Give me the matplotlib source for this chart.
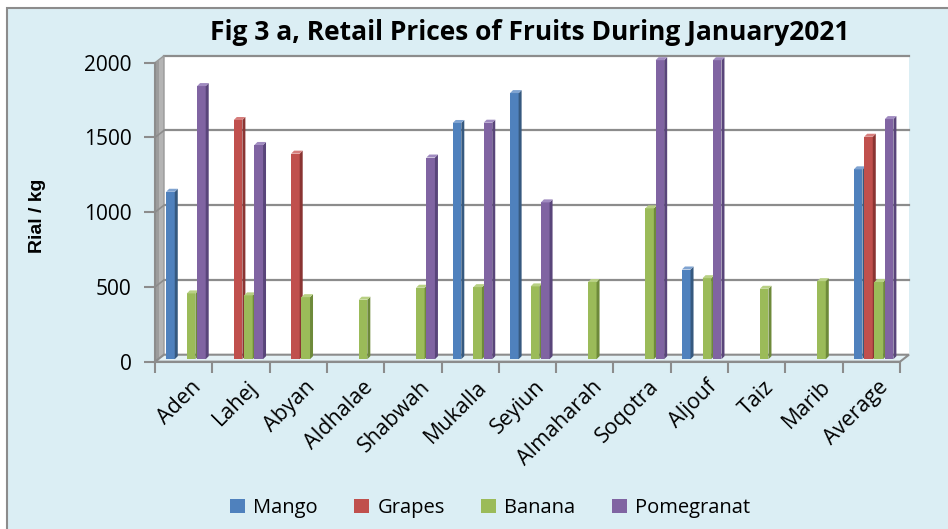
import numpy as np
import matplotlib.pyplot as plt
import matplotlib.transforms as mtrans
from matplotlib.patches import Polygon, Rectangle

# ---------- data ----------
cities = ['Aden', 'Lahej', 'Abyan', 'Aldhalae', 'Shabwah', 'Mukalla', 'Seyiun',
          'Almaharah', 'Soqotra', 'Aljouf', 'Taiz', 'Marib', 'Average']
mango = [1120, 0, 0, 0, 0, 1580, 1780, 0, 0, 600, 0, 0, 1270]
grapes = [0, 1600, 1375, 0, 0, 0, 0, 0, 0, 0, 0, 0, 1488]
banana = [440, 427, 415, 398, 478, 482, 487, 516, 1009, 542, 471, 522, 516]
pomegranat = [1827, 1433, 0, 0, 1349, 1582, 1049, 0, 2000, 2000, 0, 0, 1606]
series_names = ['Mango', 'Grapes', 'Banana', 'Pomegranat']
yticks = [0, 500, 1000, 1500, 2000]

front_col = ['#4F81BD', '#C0504D', '#9BBB59', '#8064A2']
side_col = ['#36597F', '#8A3432', '#6E8A3A', '#59457A']
top_col = ['#7FA3D1', '#D67E7C', '#B8D084', '#A08BC0']

W, H = 948, 529
fig = plt.figure(figsize=(W / 100, H / 100), dpi=100, facecolor='white')
# chart area with border (white strip top/left like the source)
fig.patches.append(Rectangle((7 / W, -0.01), 1.0, (H - 8) / H + 0.01, transform=fig.transFigure,
                             facecolor='#DBEEF4', edgecolor='#8C8C8C', lw=1.5, zorder=-5))

ax = fig.add_axes([155 / W, (H - 361.7) / H, 745 / W, 299 / H])
ax.set_zorder(2)
ax.set_xlim(-0.5, 12.5)
ax.set_ylim(0, 2000)
ax.patch.set_visible(False)
for s in ['top', 'right']:
    ax.spines[s].set_visible(False)
ax.spines['left'].set_color('#8C8C8C')
ax.spines['bottom'].set_color('#8C8C8C')
ax.spines['left'].set_linewidth(1.5)
ax.spines['bottom'].set_linewidth(1.5)

DX, DY = 9, 7          # depth of the 3d walls in pixels
back = mtrans.offset_copy(ax.transData, fig=fig, x=DX, y=DY, units='dots')
ident = mtrans.IdentityTransform()

# back wall
ax.add_patch(Rectangle((-0.5, 0), 13, 2000, transform=back, facecolor='white',
                       edgecolor='none', zorder=0, clip_on=False))
for g in yticks[1:]:
    ax.plot([-0.5, 12.5], [g, g], transform=back, color='#8C8C8C', lw=1.6,
            zorder=1, clip_on=False)

fig.canvas.draw()


def disp(x, y):
    return ax.transData.transform((x, y))


# left wall (two tones to mimic the shading)
p0, p1 = disp(-0.5, 0), disp(-0.5, 2000)
ax.add_patch(Polygon([p0, p1, p1 + [DX, DY], p0 + [DX, DY]], closed=True, transform=ident,
                     facecolor='#B4B4B4', edgecolor='#9A9A9A', lw=1, zorder=1, clip_on=False))
ax.add_patch(Polygon([p0, p1, p1 + [4, 3], p0 + [4, 3]], closed=True, transform=ident,
                     facecolor='#9C9C9C', edgecolor='none', zorder=1, clip_on=False))
for g in yticks[1:]:
    q = disp(-0.5, g)
    ax.add_line(plt.Line2D([q[0], q[0] + DX], [q[1], q[1] + DY], transform=ident,
                           color='#8C8C8C', lw=1.2, zorder=1))
# floor
f0, f1 = disp(-0.5, 0), disp(12.5, 0)
ax.add_patch(Polygon([f0, f1, f1 + [DX, DY], f0 + [DX, DY]], closed=True, transform=ident,
                     facecolor='#E4F1F5', edgecolor='#8C8C8C', lw=1.5, zorder=1, clip_on=False))

# 3d bars
bw = 0.18
BD = 3  # bar depth in pixels
BX, BY = 2, 2.5
data = [mango, grapes, banana, pomegranat]
for j in range(len(cities)):
    for i, vals in enumerate(data):
        v = vals[j]
        if v <= 0:
            continue
        xl = j - 2 * bw + i * bw + 0.02
        a = disp(xl, 0) + [BX, BY]
        b = disp(xl + bw - 0.03, 0) + [BX, BY]
        c = disp(xl + bw - 0.03, v) + [BX, BY]
        d = disp(xl, v) + [BX, BY]
        z = 3 + j * 0.01 + i * 0.001
        ax.add_patch(Polygon([a, b, c, d], closed=True, transform=ident,
                             facecolor=front_col[i], edgecolor='none', zorder=z, clip_on=False))
        ax.add_patch(Polygon([b, b + [BD, BD], c + [BD, BD], c], closed=True, transform=ident,
                             facecolor=side_col[i], edgecolor='none', zorder=z, clip_on=False))
        ax.add_patch(Polygon([d, c, c + [BD, BD], d + [BD, BD]], closed=True, transform=ident,
                             facecolor=top_col[i], edgecolor='none', zorder=z, clip_on=False))

# axes ticks
ax.set_yticks(yticks)
ax.tick_params(axis='y', length=8, width=1.5, color='#8C8C8C', labelsize=15, pad=9)
for t in ax.get_yticklabels():
    t.set_fontfamily('Open Sans')

x = np.arange(len(cities))
ax.set_xticks(x)
ax.set_xticklabels(cities, rotation=45, ha='right', va='center', rotation_mode='anchor',
                   fontsize=15.5, fontfamily='Open Sans')
ax.tick_params(axis='x', which='major', length=0, pad=16)
ax.set_xticks(np.arange(-0.5, 13, 1), minor=True)
ax.tick_params(axis='x', which='minor', length=8, width=1.5, color='#8C8C8C')
off = mtrans.ScaledTranslation(14 / 100, 0, fig.dpi_scale_trans)
for t in ax.get_xticklabels():
    t.set_transform(t.get_transform() + off)

fig.text(38 / W, 1 - 216 / H, 'Rial / kg', rotation=90, ha='center', va='center',
         fontsize=14, fontweight='bold', fontfamily='Liberation Sans')
fig.text(530 / W, 1 - 33 / H, 'Fig 3 a, Retail Prices of Fruits During January2021',
         ha='center', va='center', fontsize=19, fontweight='bold', fontfamily='Open Sans')

handles = [Rectangle((0, 0), 1, 1, facecolor=c) for c in front_col]
fig.legend(handles, series_names, loc='center', bbox_to_anchor=(490 / W, 1 - 508 / H),
           ncol=4, frameon=False, handlelength=0.75, handleheight=0.75, handletextpad=0.4,
           columnspacing=1.8, prop={'family': 'Open Sans', 'size': 14.5})

fig.savefig('out.png', dpi=100, facecolor=fig.get_facecolor())
